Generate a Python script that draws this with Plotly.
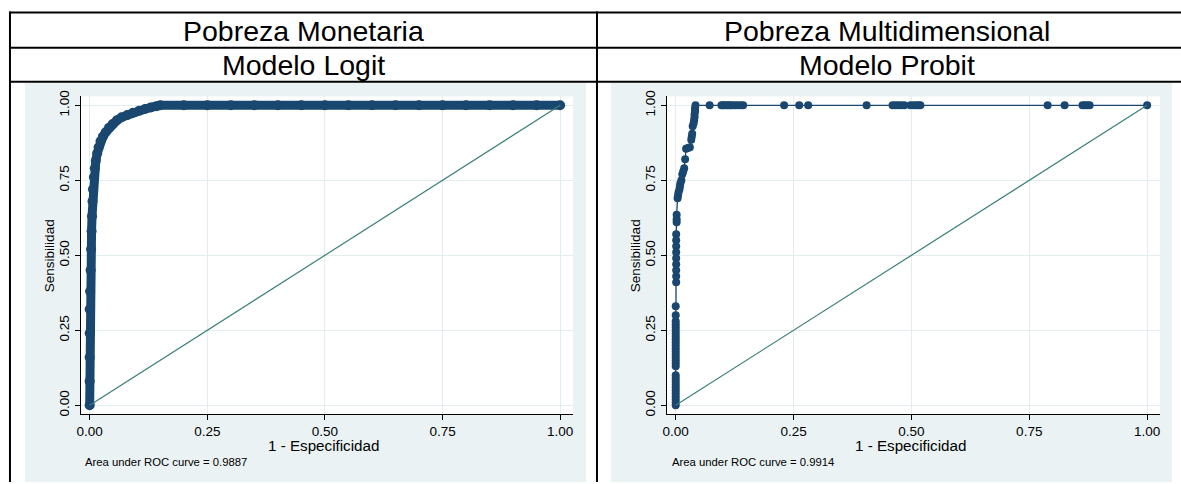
import plotly.graph_objects as go

W, H = 1181, 484

header_top = ["Pobreza Monetaria", "Pobreza Multidimensional"]
header_model = ["Modelo Logit", "Modelo Probit"]
auc_text = ["Area under ROC curve = 0.9887", "Area under ROC curve = 0.9914"]
x_title = "1 - Especificidad"
y_title = "Sensibilidad"
tick_vals = [0, 0.25, 0.5, 0.75, 1.0]
tick_text = ["0.00", "0.25", "0.50", "0.75", "1.00"]
ref_x = [0, 1]
ref_y = [0, 1]

# Logit ROC curve (1 - specificity, sensitivity)
logit_fpr = [0.0, 0.0, 0.0, 0.0, 0.0, 0.001, 0.002, 0.003, 0.004, 0.005, 0.006, 0.007, 0.009,
             0.011, 0.013, 0.016, 0.019, 0.023, 0.028, 0.034, 0.041, 0.049, 0.058, 0.068, 0.08,
             0.092, 0.105, 0.118, 0.13, 0.142, 0.15, 0.2, 0.25, 0.3, 0.35, 0.4, 0.45, 0.5, 0.55,
             0.6, 0.65, 0.7, 0.75, 0.8, 0.85, 0.9, 0.95, 1.0]
logit_tpr = [0.0, 0.08, 0.16, 0.24, 0.32, 0.38, 0.45, 0.52, 0.58, 0.63, 0.68, 0.72, 0.76,
             0.79, 0.815, 0.84, 0.86, 0.88, 0.895, 0.91, 0.925, 0.938, 0.95, 0.96, 0.968,
             0.975, 0.982, 0.988, 0.993, 0.997, 1.0, 1.0, 1.0, 1.0, 1.0, 1.0, 1.0, 1.0, 1.0,
             1.0, 1.0, 1.0, 1.0, 1.0, 1.0, 1.0, 1.0, 1.0]

# Probit ROC curve
probit_fpr = [0.0, 0.0, 0.0, 0.0, 0.0, 0.0, 0.0, 0.0, 0.0, 0.0, 0.0,
              0.0, 0.0, 0.0, 0.0, 0.0, 0.0, 0.0, 0.0, 0.0, 0.0, 0.0, 0.0,
              0.0, 0.0, 0.0, 0.0, 0.0, 0.0,
              0.001, 0.001, 0.001, 0.001, 0.001, 0.001, 0.001, 0.001, 0.001,
              0.002, 0.002, 0.002,
              0.004, 0.005, 0.006, 0.008, 0.009, 0.01, 0.012,
              0.014, 0.016, 0.018, 0.02,
              0.022, 0.026, 0.03, 0.033,
              0.034, 0.035, 0.036,
              0.038, 0.039, 0.04, 0.04, 0.041, 0.041, 0.042,
              0.072, 0.097, 0.1, 0.104, 0.108, 0.112, 0.116, 0.12, 0.126, 0.132, 0.138, 0.143,
              0.23, 0.262, 0.281, 0.405, 0.46, 0.466, 0.472, 0.478, 0.485, 0.498, 0.504, 0.51,
              0.515, 0.519, 0.789, 0.825, 0.863, 0.868, 0.873, 0.878, 1.0]
probit_tpr = [0.0, 0.01, 0.02, 0.03, 0.04, 0.05, 0.06, 0.07, 0.08, 0.09, 0.10,
              0.13, 0.14, 0.15, 0.16, 0.17, 0.18, 0.19, 0.20, 0.21, 0.22, 0.23, 0.24,
              0.25, 0.26, 0.27, 0.28, 0.30, 0.33,
              0.41, 0.43, 0.45, 0.47, 0.49, 0.51, 0.53, 0.55, 0.57,
              0.61, 0.62, 0.635,
              0.69, 0.70, 0.71, 0.72, 0.73, 0.74, 0.75,
              0.77, 0.78, 0.79, 0.82,
              0.855, 0.858, 0.86, 0.885,
              0.895, 0.905, 0.93,
              0.94, 0.95, 0.96, 0.97, 0.98, 0.99, 1.0,
              1.0, 1.0, 1.0, 1.0, 1.0, 1.0, 1.0, 1.0, 1.0, 1.0, 1.0, 1.0,
              1.0, 1.0, 1.0, 1.0, 1.0, 1.0, 1.0, 1.0, 1.0, 1.0, 1.0, 1.0,
              1.0, 1.0, 1.0, 1.0, 1.0, 1.0, 1.0, 1.0, 1.0]

NAVY = "#1a476f"
TEAL = "#3b7f78"
BG = "#eaf2f3"
GRID = "#e3ecee"
FONT = "Liberation Sans, Arial, sans-serif"


def px(x):
    return x / W


def py(y):
    return 1 - y / H


fig = go.Figure()

# Logit
fig.add_trace(go.Scatter(x=logit_fpr, y=logit_tpr, mode="lines+markers",
                         line=dict(color=NAVY, width=9),
                         marker=dict(color=NAVY, size=10),
                         xaxis="x", yaxis="y", showlegend=False))
fig.add_trace(go.Scatter(x=ref_x, y=ref_y, mode="lines", line=dict(color=TEAL, width=1.2),
                         xaxis="x", yaxis="y", showlegend=False))
# Probit
fig.add_trace(go.Scatter(x=probit_fpr, y=probit_tpr, mode="lines+markers",
                         line=dict(color=NAVY, width=1.3),
                         marker=dict(color=NAVY, size=8),
                         xaxis="x2", yaxis="y2", showlegend=False))
fig.add_trace(go.Scatter(x=ref_x, y=ref_y, mode="lines", line=dict(color=TEAL, width=1.2),
                         xaxis="x2", yaxis="y2", showlegend=False))

xr = [-0.019, 1.0275]
yr = [-0.0295, 1.0295]
common = dict(tickvals=tick_vals, ticktext=tick_text, ticks="outside", ticklen=5,
              tickcolor="black", tickwidth=1, showline=True, linecolor="black", linewidth=1,
              showgrid=True, gridcolor=GRID, gridwidth=1, zeroline=False,
              tickfont=dict(family=FONT, size=13.5, color="black"), fixedrange=True)

ydom = [py(415), py(92)]
fig.update_layout(
    xaxis=dict(domain=[px(77), px(571)], range=xr, anchor="y", **common),
    yaxis=dict(domain=ydom, range=yr, anchor="x", tickangle=-90, **common),
    xaxis2=dict(domain=[px(665), px(1160)], range=xr, anchor="y2", **common),
    yaxis2=dict(domain=ydom, range=yr, anchor="x2", tickangle=-90, **common),
)

shapes = []
# light background panels, then white plot regions
for (l, r) in [(21, 584), (609, 1172)]:
    shapes.append(dict(type="rect", xref="paper", yref="paper", x0=px(l), x1=px(r),
                       y0=py(484), y1=py(78), fillcolor=BG, line=dict(width=0), layer="below"))
for (l, r) in [(77, 571), (665, 1160)]:
    shapes.append(dict(type="rect", xref="paper", yref="paper", x0=px(l), x1=px(r),
                       y0=py(415), y1=py(92), fillcolor="white", line=dict(width=0), layer="below"))
# table borders
LW = 2
for yy in [6.5, 42.5, 77]:
    shapes.append(dict(type="line", xref="paper", yref="paper", x0=px(5.5), x1=1,
                       y0=py(yy), y1=py(yy), line=dict(color="black", width=LW)))
for xx in [6, 595]:
    shapes.append(dict(type="line", xref="paper", yref="paper", x0=px(xx), x1=px(xx),
                       y0=0, y1=py(5.5), line=dict(color="black", width=LW)))

annotations = []
for i, cx in enumerate([300.5, 885.5]):
    annotations.append(dict(text=header_top[i], x=px(cx), y=py(25), xref="paper", yref="paper",
                            showarrow=False, xanchor="center", yanchor="middle",
                            font=dict(family=FONT, size=28.5, color="black")))
    annotations.append(dict(text=header_model[i], x=px(cx), y=py(60), xref="paper", yref="paper",
                            showarrow=False, xanchor="center", yanchor="middle",
                            font=dict(family=FONT, size=28.5, color="black")))
for i, (xc, yx, ax) in enumerate([(321, 45, 79), (910, 633, 668)]):
    annotations.append(dict(text=x_title, x=px(xc), y=py(446.5), xref="paper", yref="paper",
                            showarrow=False, xanchor="center", yanchor="middle",
                            font=dict(family=FONT, size=15.2, color="black")))
    annotations.append(dict(text=y_title, x=px(yx), y=py(253.5), xref="paper", yref="paper",
                            showarrow=False, xanchor="center", yanchor="middle", textangle=-90,
                            font=dict(family=FONT, size=13.5, color="black")))
    annotations.append(dict(text=auc_text[i], x=px(ax), y=py(463.5), xref="paper", yref="paper",
                            showarrow=False, xanchor="left", yanchor="middle",
                            font=dict(family=FONT, size=11.3, color="black")))

fig.update_layout(
    width=W, height=H, margin=dict(l=0, r=0, t=0, b=0),
    paper_bgcolor="white", plot_bgcolor="white",
    shapes=shapes, annotations=annotations, showlegend=False,
)

fig.write_html(
    "out.html", config={"displayModeBar": False},
    post_script=("document.documentElement.style.margin='0';"
                 "document.body.style.margin='0';document.body.style.padding='0';"
                 "document.body.style.overflow='hidden';"
                 "var d=document.getElementById('{plot_id}');"
                 "d.style.position='fixed';d.style.left='0px';d.style.top='0px';"),
)
